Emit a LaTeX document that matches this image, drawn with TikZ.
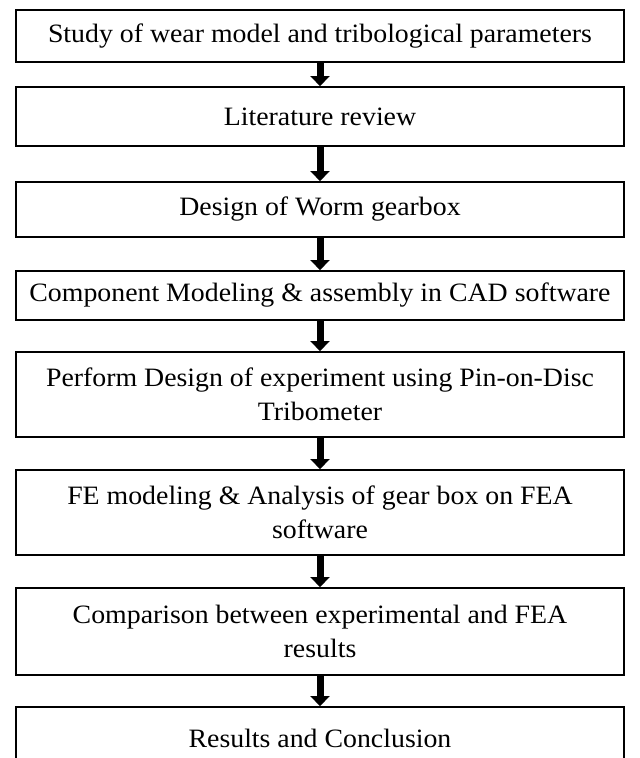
\documentclass[tikz,border=0pt]{standalone}
\usepackage{fontspec}
\setmainfont[FakeStretch=1.05]{Liberation Serif}
\usetikzlibrary{arrows.meta,positioning}
\begin{document}
\begin{tikzpicture}[x=1pt,y=-1pt,
  stepbox/.style={draw=black,line width=1.8pt,minimum width=608pt,align=center,inner sep=0pt,font=\fontsize{26.5}{34}\selectfont},
  flow/.style={line width=7pt,-{Triangle[width=19pt,length=10pt]}}]
\useasboundingbox (0,0) rectangle (640,758);
\node[stepbox,minimum height=52pt] (b1) at (320,36) {Study of wear model and tribological parameters};
\node[stepbox,minimum height=59pt] (b2) at (320,116.5) {Literature review};
\node[stepbox,minimum height=55pt] (b3) at (320,209.5) {Design of Worm gearbox};
\node[stepbox,minimum height=49pt] (b4) at (320,295.5) {Component Modeling \& assembly in CAD software};
\node[stepbox,minimum height=85pt] (b5) at (320,394.5) {Perform Design of experiment using Pin-on-Disc\\Tribometer};
\node[stepbox,minimum height=85pt] (b6) at (320,512.5) {FE modeling \& Analysis of gear box on FEA\\software};
\node[stepbox,minimum height=87pt] (b7) at (320,631.5) {Comparison between experimental and FEA\\results};
\node[stepbox,minimum height=62pt] (b8) at (320,738) {Results and Conclusion};
\foreach \a/\b in {b1/b2,b2/b3,b3/b4,b4/b5,b5/b6,b6/b7,b7/b8}
  \draw[flow] (\a.south) -- (\b.north);
\end{tikzpicture}
\end{document}
